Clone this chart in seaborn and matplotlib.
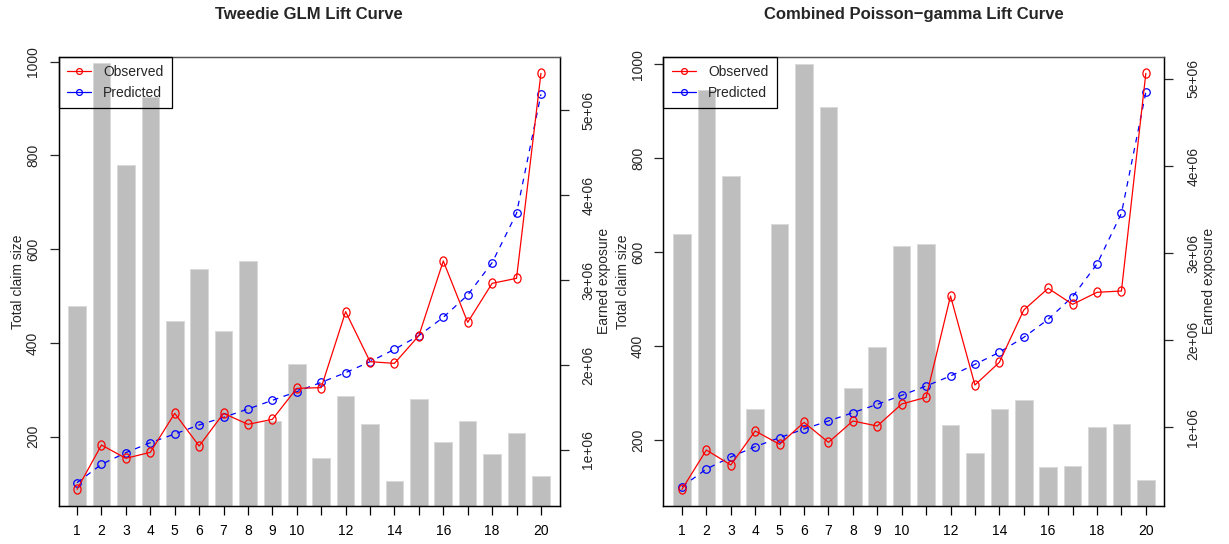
import numpy as np
import pandas as pd
import matplotlib
matplotlib.use("Agg")
import matplotlib.pyplot as plt
import seaborn as sns
from matplotlib.path import Path
from matplotlib.transforms import Affine2D
from matplotlib.lines import Line2D

# ---- data -------------------------------------------------------------
groups = list(range(1, 21))

tweedie_observed = [87.6, 182.2, 153.8, 166.6, 249.8, 180.1, 249.8, 226.3, 237.0, 303.1,
                    304.6, 466.7, 360.0, 356.4, 415.5, 574.8, 443.9, 527.1, 537.8, 975.1]
tweedie_predicted = [101.9, 141.0, 165.9, 187.2, 205.7, 224.9, 241.2, 259.0, 277.5, 296.0,
                     315.9, 336.5, 360.0, 386.3, 415.5, 454.6, 502.2, 571.2, 676.4, 930.3]
tweedie_exposure = [2.70e6, 5.55e6, 4.36e6, 5.15e6, 2.52e6, 3.13e6, 2.40e6, 3.23e6, 1.34e6, 2.01e6,
                    0.90e6, 1.63e6, 1.30e6, 0.64e6, 1.60e6, 1.09e6, 1.34e6, 0.95e6, 1.20e6, 0.69e6]

pg_observed = [94.9, 178.7, 146.8, 219.2, 190.8, 237.6, 195.0, 240.5, 229.8, 276.7,
               290.9, 506.7, 317.1, 365.4, 476.8, 523.0, 488.9, 514.5, 517.3, 980.8]
pg_predicted = [100.6, 138.2, 163.8, 185.8, 205.0, 223.4, 240.5, 258.2, 276.0, 295.1,
                315.0, 336.3, 361.1, 386.7, 418.6, 457.0, 505.2, 574.8, 682.7, 940.4]
pg_exposure = [3.22e6, 4.87e6, 3.89e6, 1.21e6, 3.34e6, 5.17e6, 4.68e6, 1.45e6, 1.92e6, 3.08e6,
               3.10e6, 1.03e6, 0.70e6, 1.21e6, 1.31e6, 0.54e6, 0.56e6, 1.00e6, 1.04e6, 0.39e6]

titles = ["Tweedie GLM Lift Curve", "Combined Poisson\u2212gamma Lift Curve"]
exposure_ticks = [1e6, 2e6, 3e6, 4e6, 5e6]
claim_ticks = [200, 400, 600, 800, 1000]

# ---- style ------------------------------------------------------------
sns.set_style("white")
plt.rcParams["font.family"] = ["Liberation Sans", "DejaVu Sans"]
plt.rcParams["axes.unicode_minus"] = True

W, H = 1229, 544
fig = plt.figure(figsize=(W / 100, H / 100), dpi=100)

panels = [
    dict(title=titles[0], obs=tweedie_observed, pred=tweedie_predicted, expo=tweedie_exposure,
         left=58.5, expo_lim=(0.34e6, 5.63e6)),
    dict(title=titles[1], obs=pg_observed, pred=pg_predicted, expo=pg_exposure,
         left=663.4, expo_lim=(0.096e6, 5.256e6)),
]

obs_marker = Path.unit_circle().transformed(Affine2D().scale(0.78, 1.0))
FS = 10


def style_spines(ax):
    for side, sp in ax.spines.items():
        sp.set_visible(True)
        sp.set_linewidth(0.9)
        sp.set_color("#555555" if side == "top" else "black")


for p in panels:
    ax_bar = fig.add_axes([p["left"] / W, 38 / H, 501 / W, 449.3 / H])
    df = pd.DataFrame({"group": groups, "exposure": p["expo"],
                       "observed": p["obs"], "predicted": p["pred"]})

    # exposure bars (drawn on the right-hand scale, behind the lift lines)
    sns.barplot(data=df, x="group", y="exposure", native_scale=True, width=0.72,
                color="#bebebe", saturation=1, edgecolor="#d9d9d9", linewidth=0.7,
                ax=ax_bar)
    ax_line = ax_bar.twinx()

    # lift curves on the left-hand scale
    sns.lineplot(data=df, x="group", y="predicted", ax=ax_line, color="blue",
                 linestyle=(0, (4.5, 4.5)), linewidth=0.9, marker="o", markersize=5.4,
                 markerfacecolor="none", markeredgecolor="blue", markeredgewidth=0.9,
                 errorbar=None)
    sns.lineplot(data=df, x="group", y="observed", ax=ax_line, color="red",
                 linewidth=0.9, marker=obs_marker, markersize=6.6,
                 markerfacecolor="none", markeredgecolor="red", markeredgewidth=0.9,
                 errorbar=None)

    # axis ranges
    allv = np.r_[df["observed"].values, df["predicted"].values]
    lo, hi = allv.min(), allv.max()
    pad = 0.04 * (hi - lo)
    ax_line.set_ylim(lo - pad, hi + pad)
    ax_bar.set_ylim(*p["expo_lim"])
    ax_bar.set_xlim(0.24, 20.76)

    # x axis
    ax_bar.set_xticks(groups)
    ax_bar.set_xticklabels([str(g) if (g <= 10 or g % 2 == 0) else "" for g in groups])
    ax_bar.tick_params(axis="x", direction="out", length=6.3, width=0.9, pad=7,
                       labelsize=FS, colors="black", bottom=True)
    ax_bar.set_xlabel("")

    # right axis: exposure
    ax_bar.yaxis.tick_right()
    ax_bar.yaxis.set_label_position("right")
    ax_bar.set_yticks(exposure_ticks)
    ax_bar.set_yticklabels([f"{v:.0e}" for v in exposure_ticks])
    ax_bar.tick_params(axis="y", direction="out", length=6.3, width=0.9, pad=9.5,
                       labelsize=FS, labelrotation=90, right=True, left=False)
    for lab in ax_bar.get_yticklabels():
        lab.set_va("center")
    ax_bar.set_ylabel("Earned exposure", fontsize=FS, labelpad=1)

    # left axis: claim size
    ax_line.yaxis.tick_left()
    ax_line.yaxis.set_label_position("left")
    ax_line.set_yticks(claim_ticks)
    ax_line.set_yticklabels([str(v) for v in claim_ticks])
    ax_line.tick_params(axis="y", direction="out", length=6.3, width=0.9, pad=7,
                        labelsize=FS, labelrotation=90, left=True, right=False)
    for lab in ax_line.get_yticklabels():
        lab.set_va("center")
    ax_line.set_ylabel("Total claim size", fontsize=FS, labelpad=1)
    ax_line.set_xlabel("")

    style_spines(ax_bar)
    style_spines(ax_line)
    ax_bar.grid(False)
    ax_line.grid(False)

    ax_bar.set_title(p["title"], fontsize=12, fontweight="bold", pad=27)

    handles = [
        Line2D([], [], color="red", lw=0.9, marker="o", ms=4.2, mfc="none", mec="red", mew=0.9),
        Line2D([], [], color="blue", lw=0.9, marker="o", ms=4.2, mfc="none", mec="blue", mew=0.9),
    ]
    leg = ax_line.legend(handles, ["Observed", "Predicted"], loc="upper left",
                         bbox_to_anchor=(0, 1), borderaxespad=0, fontsize=FS,
                         frameon=True, fancybox=False, framealpha=1, edgecolor="black",
                         handlelength=1.75, handletextpad=0.85, labelspacing=0.45,
                         borderpad=0.62)
    leg.get_frame().set_facecolor("none")
    leg.get_frame().set_linewidth(0.9)

fig.savefig("out.png", dpi=100)
